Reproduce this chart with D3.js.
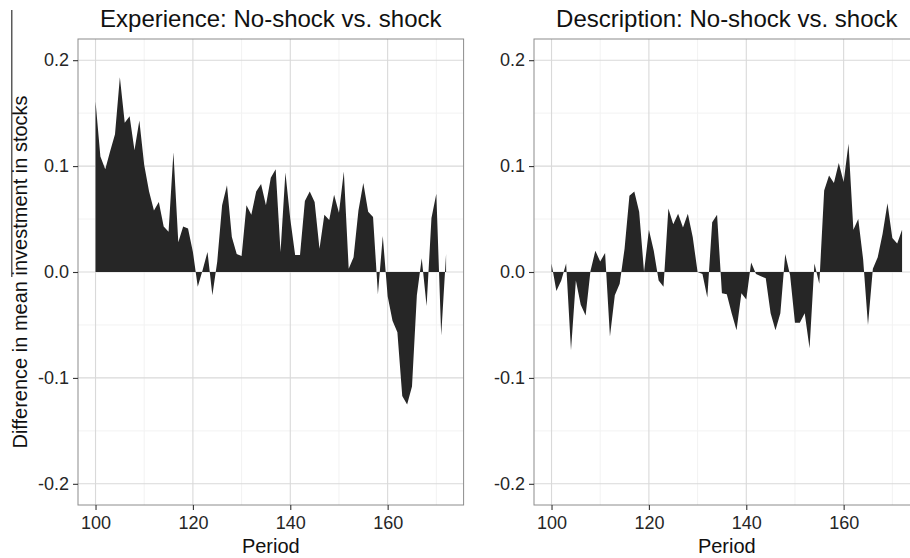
<!DOCTYPE html>
<html>
<head>
<meta charset="utf-8">
<script src="https://cdn.jsdelivr.net/npm/d3@7"></script>
<style>
  html, body { margin: 0; padding: 0; background: #fff; }
  svg { display: block; font-family: "Liberation Sans", Arial, Helvetica, sans-serif; }
</style>
</head>
<body>
<svg id="chart" width="910" height="558"></svg>
<script>
// Periods shown on the x axis
const periods = d3.range(100, 173);

// Difference in mean investment in stocks (no-shock minus shock), Experience condition
const experienceDiff = [
  0.161, 0.109, 0.097, 0.114, 0.130, 0.184, 0.141, 0.147, 0.115, 0.143,
  0.101, 0.076, 0.058, 0.066, 0.043, 0.038, 0.113, 0.028, 0.043, 0.041,
  0.019, -0.014, 0.002, 0.019, -0.022, 0.010, 0.063, 0.082, 0.033, 0.017,
  0.015, 0.063, 0.054, 0.076, 0.083, 0.063, 0.089, 0.097, 0.019, 0.094,
  0.050, 0.016, 0.016, 0.067, 0.076, 0.066, 0.022, 0.054, 0.049, 0.073,
  0.056, 0.095, 0.003, 0.014, 0.058, 0.084, 0.057, 0.052, -0.021, 0.034,
  -0.023, -0.046, -0.057, -0.117, -0.125, -0.108, -0.022, 0.013, -0.032, 0.051,
  0.074, -0.060, 0.017
];

// Same measure, Description condition
const descriptionDiff = [
  0.008, -0.018, -0.008, 0.008, -0.074, -0.008, -0.031, -0.041, 0.001, 0.020,
  0.010, 0.018, -0.061, -0.022, -0.011, 0.022, 0.072, 0.076, 0.057, 0.000,
  0.040, 0.020, -0.008, -0.014, 0.060, 0.045, 0.055, 0.042, 0.055, 0.033,
  0.000, -0.002, -0.024, 0.047, 0.054, -0.020, -0.021, -0.039, -0.055, -0.020,
  -0.026, 0.009, -0.002, -0.004, -0.006, -0.039, -0.055, -0.039, 0.017, -0.003,
  -0.048, -0.048, -0.039, -0.072, 0.008, -0.011, 0.077, 0.091, 0.084, 0.103,
  0.085, 0.121, 0.040, 0.050, 0.012, -0.050, 0.003, 0.014, 0.036, 0.065,
  0.032, 0.027, 0.040
];

const panelTitles = ["Experience: No-shock vs. shock", "Description: No-shock vs. shock"];
const xTicks = [100, 120, 140, 160];
const xMinor = [110, 130, 150, 170];
const yTicks = [-0.2, -0.1, 0.0, 0.1, 0.2];
const yMinor = [-0.15, -0.05, 0.05, 0.15];
const xLabel = "Period";
const yLabel = "Difference in mean investment in stocks";

const svg = d3.select("#chart");

const panelW = 385.6, panelH = 466, panelTop = 39;
const panelLefts = [78, 534];

const y = d3.scaleLinear().domain([-0.22, 0.22]).range([panelTop + panelH, panelTop]);

const series = [experienceDiff, descriptionDiff];

series.forEach((vals, i) => {
  const left = panelLefts[i];
  const x = d3.scaleLinear().domain([96.4, 175.6]).range([left, left + panelW]);
  const data = periods.map((p, j) => ({ p, v: vals[j] }));
  const g = svg.append("g");

  // minor grid
  g.selectAll(".xmin").data(xMinor).join("line")
    .attr("x1", d => x(d)).attr("x2", d => x(d))
    .attr("y1", panelTop).attr("y2", panelTop + panelH)
    .attr("stroke", "#f2f2f2").attr("stroke-width", 1);
  g.selectAll(".ymin").data(yMinor).join("line")
    .attr("x1", left).attr("x2", left + panelW)
    .attr("y1", d => y(d)).attr("y2", d => y(d))
    .attr("stroke", "#f2f2f2").attr("stroke-width", 1);

  // major grid
  g.selectAll(".xmaj").data(xTicks).join("line")
    .attr("x1", d => x(d)).attr("x2", d => x(d))
    .attr("y1", panelTop).attr("y2", panelTop + panelH)
    .attr("stroke", "#d9d9d9").attr("stroke-width", 1.1);
  g.selectAll(".ymaj").data(yTicks).join("line")
    .attr("x1", left).attr("x2", left + panelW)
    .attr("y1", d => y(d)).attr("y2", d => y(d))
    .attr("stroke", "#d9d9d9").attr("stroke-width", 1.1);

  // area between the curve and zero
  const area = d3.area()
    .x(d => x(d.p))
    .y0(y(0))
    .y1(d => y(d.v));
  g.append("path").datum(data)
    .attr("d", area)
    .attr("fill", "#262626");

  // panel border
  g.append("rect")
    .attr("x", left).attr("y", panelTop)
    .attr("width", panelW).attr("height", panelH)
    .attr("fill", "none").attr("stroke", "#8c8c8c").attr("stroke-width", 1);

  // axes
  const yAxis = d3.axisLeft(y).tickValues(yTicks).tickSize(5).tickPadding(4)
    .tickFormat(d => d === 0 ? "0.0" : d3.format(".1f")(d).replace("−", "-"));
  const ya = g.append("g").attr("transform", `translate(${left},0)`).call(yAxis);
  ya.select(".domain").remove();
  ya.selectAll(".tick line").attr("stroke", "#333").attr("stroke-width", 1.1);
  ya.selectAll(".tick text").attr("fill", "#262626")
    .style("font-size", "18px").style("font-family", "'Liberation Sans', Arial, sans-serif");

  const xAxis = d3.axisBottom(x).tickValues(xTicks).tickSize(5).tickPadding(6)
    .tickFormat(d3.format("d"));
  const xa = g.append("g").attr("transform", `translate(0,${panelTop + panelH})`).call(xAxis);
  xa.select(".domain").remove();
  xa.selectAll(".tick line").attr("stroke", "#333").attr("stroke-width", 1.1);
  xa.selectAll(".tick text").attr("fill", "#262626")
    .style("font-size", "18px").style("font-family", "'Liberation Sans', Arial, sans-serif");

  // panel title
  g.append("text")
    .attr("x", left + panelW / 2).attr("y", 27)
    .attr("text-anchor", "middle")
    .attr("fill", "#111")
    .style("font-size", "24px")
    .text(panelTitles[i]);

  // x axis title
  g.append("text")
    .attr("x", left + panelW / 2).attr("y", 552.5)
    .attr("text-anchor", "middle")
    .attr("fill", "#111")
    .style("font-size", "20px")
    .text(xLabel);
});

// shared y axis title
svg.append("text")
  .attr("transform", `translate(26.5,${panelTop + panelH / 2}) rotate(-90)`)
  .attr("text-anchor", "middle")
  .attr("fill", "#111")
  .style("font-size", "20px")
  .text(yLabel);

// thin rule at the left margin
svg.append("line")
  .attr("x1", 11.8).attr("x2", 11.8)
  .attr("y1", 10).attr("y2", 277)
  .attr("stroke", "#333").attr("stroke-width", 1.2);
</script>
</body>
</html>
